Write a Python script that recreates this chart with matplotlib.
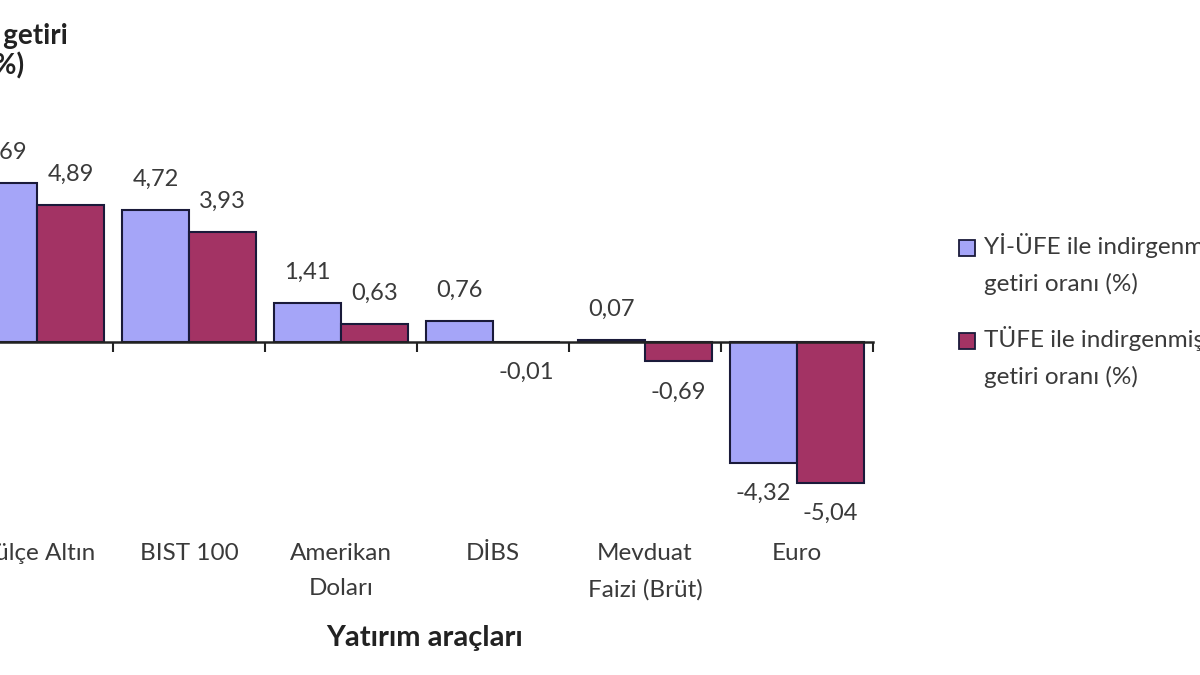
import matplotlib
matplotlib.use("Agg")
from matplotlib import pyplot as plt
from matplotlib.patches import Rectangle
import matplotlib.transforms as mtransforms
import numpy as np

plt.rcParams['font.family'] = ['Lato', 'DejaVu Sans']

categories = ["Külçe Altın", "BIST 100", "Amerikan\nDoları", "DİBS", "Mevduat\nFaizi (Brüt)", "Euro"]
yi_ufe = [5.69, 4.72, 1.41, 0.76, 0.07, -4.32]
tufe = [4.89, 3.93, 0.63, -0.01, -0.69, -5.04]
series_names = ["Yİ-ÜFE ile indirgenmiş reel\ngetiri oranı (%)", "TÜFE ile indirgenmiş reel\ngetiri oranı (%)"]
series_colors = ["#a5a5f8", "#a33364"]

W, H = 1200, 675
fig = plt.figure(figsize=(12, 6.75), dpi=100)
# axes deliberately starts left of the figure edge (reference is cropped)
ax = fig.add_axes([-39 / W, (H - 510) / H, 912 / W, 364 / H])
ax.set_xlim(-0.5, 5.5)
ax.set_ylim(-6, 7)

x = np.arange(len(categories))
w = 0.44
for vals, off, col in [(yi_ufe, -w / 2, series_colors[0]), (tufe, w / 2, series_colors[1])]:
    ax.bar(x + off, vals, width=w, color=col, edgecolor="#1a1a3a", linewidth=1.5, zorder=2)
    for xi, v in zip(x + off, vals):
        txt = f"{v:.2f}".replace(".", ",")
        ax.annotate(txt, (xi, v), xytext=(0, 22 if v >= 0 else -22), textcoords="offset points",
                    ha="center", va="center", fontsize=17, color="#3a3a3a")

for s in ["top", "right", "left"]:
    ax.spines[s].set_visible(False)
ax.spines["bottom"].set_position(("data", 0))
ax.spines["bottom"].set_linewidth(1.8)
ax.spines["bottom"].set_color("#222222")
ax.spines["bottom"].set_zorder(3)
ax.set_yticks([])
ax.set_xticks([])
ax.set_xticks(np.arange(-0.5, 6, 1), minor=True)
ax.tick_params(axis="x", which="minor", length=7, width=1.5, color="#222222", direction="out")

trans = mtransforms.blended_transform_factory(ax.transData, ax.transAxes)
for xi, lab in zip(x, categories):
    ax.text(xi, -0.09, lab, transform=trans, ha="center", va="top", fontsize=17.5,
            color="#3a3a3a", linespacing=1.85)

fig.text(425 / W, 1 - 638 / H, "Yatırım araçları", ha="center", va="center",
         fontsize=21, fontweight="bold", color="#222222")
fig.text(5 / W, 1 - 51 / H, "Reel getiri\n(%)", ha="center", va="center",
         fontsize=20, fontweight="bold", color="#222222", linespacing=1.15)

# legend
for i, (name, col) in enumerate(zip(series_names, series_colors)):
    yc = 248 + i * 93
    fig.patches.append(Rectangle((959 / W, 1 - (yc + 8) / H), 16 / W, 16 / H, transform=fig.transFigure,
                                 facecolor=col, edgecolor="#1a1a3a", linewidth=1.3))
    fig.text(984 / W, 1 - (yc - 15) / H, name, ha="left", va="top", fontsize=17.5,
             color="#3a3a3a", linespacing=1.8)

fig.savefig("out.png", dpi=100, facecolor="white")
